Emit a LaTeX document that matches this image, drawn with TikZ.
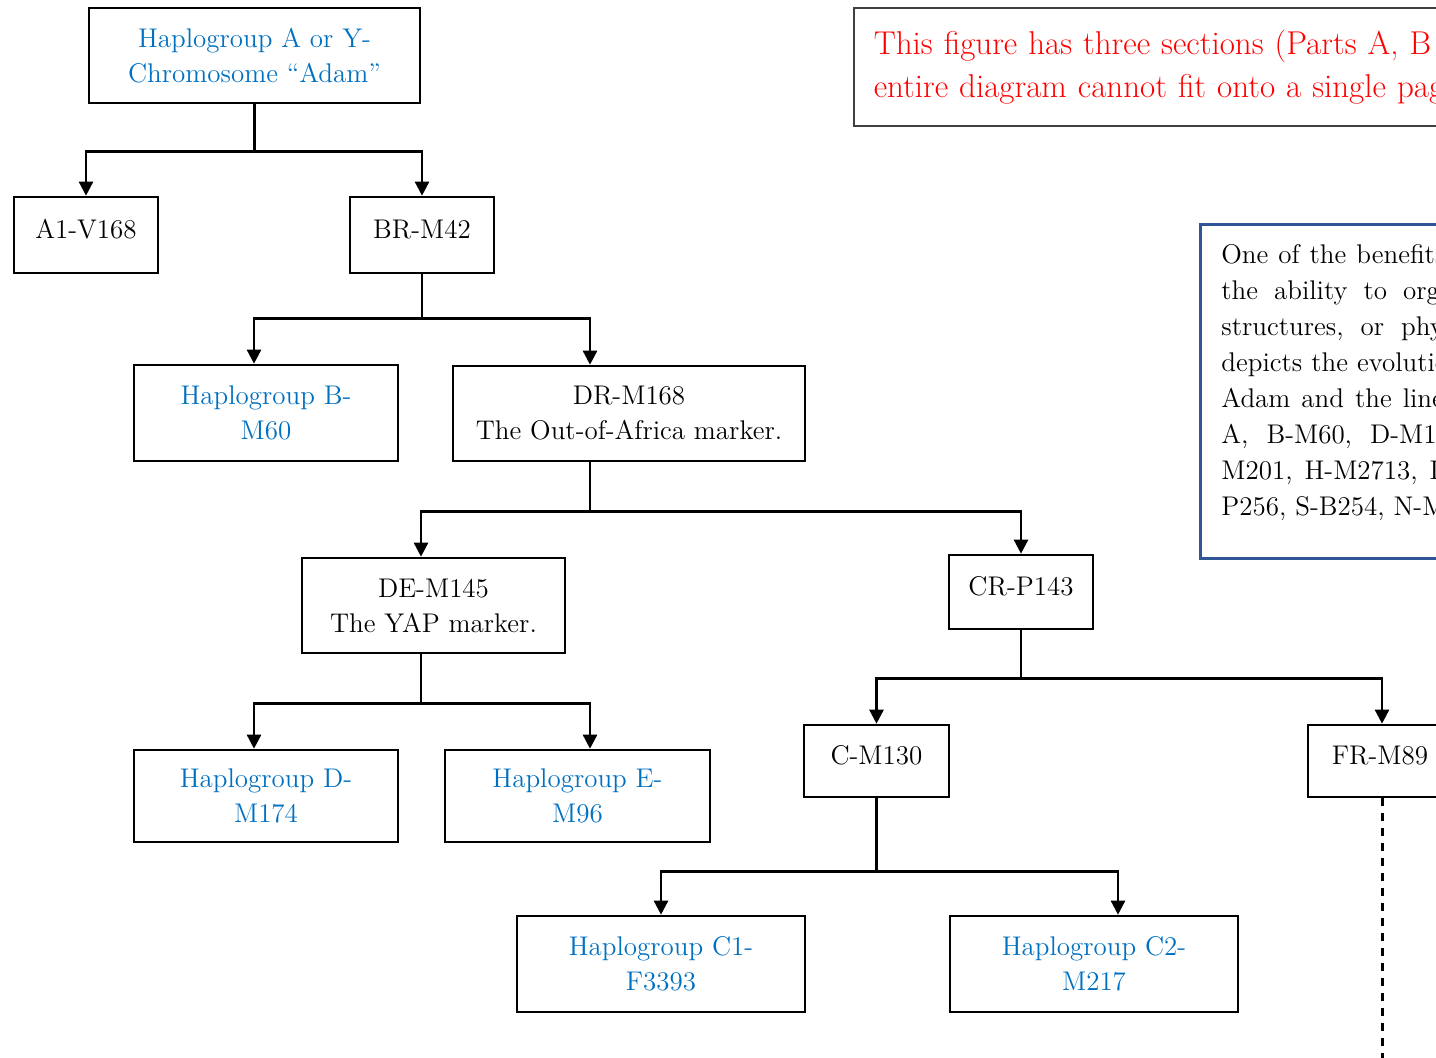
\documentclass[tikz,border=0pt]{standalone}
\usepackage{tikz}
\usetikzlibrary{arrows.meta,calc}
\definecolor{hapblue}{HTML}{0070C0}
\definecolor{notered}{HTML}{FF0000}
\definecolor{framenavy}{HTML}{2F5597}

\begin{document}
\begin{tikzpicture}[x=0.5pt,y=-0.5pt,
  box/.style={draw, line width=1.3pt, inner sep=0pt, align=center, font=\fontsize{13.5}{17.5}\selectfont},
  hap/.style={box, text=hapblue},
  single/.style={box, text depth=6pt},
  arr/.style={line width=1.3pt, -{Triangle[length=7pt,width=7pt]}}]
\useasboundingbox (0,0) rectangle (1436,1058);
\clip (0,0) rectangle (1436,1058);

\node[hap, minimum width=165.5pt, minimum height=47.5pt] (adam) at (254.5,55.5) {Haplogroup A or Y-\\Chromosome ``Adam''};
\node[single, minimum width=72pt, minimum height=38pt] (a1) at (86,235) {A1-V168};
\node[single, minimum width=72pt, minimum height=38pt] (br) at (422,235) {BR-M42};
\node[hap, minimum width=132pt, minimum height=48pt] (hb) at (266,413) {Haplogroup B-\\M60};
\node[box, minimum width=176pt, minimum height=47.5pt] (dr) at (629,413.5) {DR-M168\\The Out-of-Africa marker.};
\node[box, minimum width=131.5pt, minimum height=47.5pt] (de) at (433.5,605.5) {DE-M145\\The YAP marker.};
\node[single, minimum width=72pt, minimum height=37pt] (cr) at (1021,592) {CR-P143};
\node[hap, minimum width=132pt, minimum height=46pt] (hd) at (266,796) {Haplogroup D-\\M174};
\node[hap, minimum width=132.5pt, minimum height=46pt] (he) at (577.5,796) {Haplogroup E-\\M96};
\node[single, minimum width=72.5pt, minimum height=36pt] (cm) at (876.5,761) {C-M130};
\node[single, minimum width=72pt, minimum height=36pt] (fr) at (1380,761) {FR-M89};
\node[hap, minimum width=144pt, minimum height=48pt] (hc1) at (661,964) {Haplogroup C1-\\F3393};
\node[hap, minimum width=144pt, minimum height=48pt] (hc2) at (1094,964) {Haplogroup C2-\\M217};

% notes on the right, cut by the page edge
\node[draw=black!75, line width=0.8pt, anchor=north west, minimum height=59pt, inner xsep=10pt, text width=380pt, align=left, text=notered, font=\fontsize{16.5}{21.5}\selectfont] (parts) at (853,7) {This figure has three sections (Parts A, B\\entire diagram cannot fit onto a single page\\[-3pt]};
\node[draw=framenavy, line width=1.6pt, anchor=north west, minimum width=200pt, minimum height=167pt] (benefit) at (1199,223) {};
\node[anchor=north west, inner sep=0pt, text width=300pt, align=left, font=\fontsize{13.5}{18}\selectfont] (benefittext) at ($(benefit.north west)+(22,21)$) {{\spaceskip=5pt One of the benefits}\\{\spaceskip=8pt the ability to organize}\\{\spaceskip=8.5pt structures, or phylogenetic}\\depicts the evolution\\{\spaceskip=5.5pt Adam and the lineages}\\{\spaceskip=9pt A, B-M60, D-M174}\\{\spaceskip=6pt M201, H-M2713, I}\\P256, S-B254, N-M};

\draw[arr] (adam.south) -- ++(0,47) -| (a1.north);
\draw[arr] (adam.south) -- ++(0,47) -| (br.north);
\draw[arr] (br.south) -- ++(0,44) -| ([xshift=-6pt]hb.north);
\draw[arr] (br.south) -- ++(0,44) -| ([xshift=-19.5pt]dr.north);
\draw[arr] ([xshift=-19.5pt]dr.south) -- ++(0,49) -| ([xshift=-6.25pt]de.north);
\draw[arr] ([xshift=-19.5pt]dr.south) -- ++(0,49) -| (cr.north);
\draw[arr] ([xshift=-6.25pt]de.south) -- ++(0,49) -| ([xshift=-6pt]hd.north);
\draw[arr] ([xshift=-6.25pt]de.south) -- ++(0,49) -| ([xshift=6.25pt]he.north);
\draw[arr] (cr.south) -- ++(0,48) -| (cm.north);
\draw[arr] (cr.south) -- ++(0,48) -| ([xshift=1pt]fr.north);
\draw[arr] (cm.south) -- ++(0,73) -| (hc1.north);
\draw[arr] (cm.south) -- ++(0,73) -| ([xshift=12pt]hc2.north);
\coordinate (frend) at (1382,1058);
\draw[line width=1.5pt, dash pattern=on 4pt off 3.5pt] ([xshift=1pt]fr.south) -- (frend);
\end{tikzpicture}
\end{document}
